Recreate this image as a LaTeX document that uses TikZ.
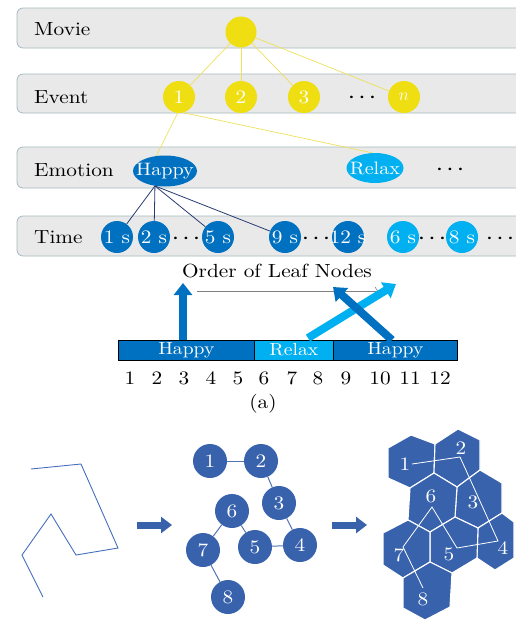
\documentclass[tikz,border=0pt]{standalone}
\usepackage{fontspec}
\setmainfont{lmroman10-regular.otf}[FakeStretch=1.12]
\usetikzlibrary{arrows.meta,shapes.geometric}
\definecolor{bandfill}{RGB}{233,233,233}
\definecolor{bandline}{RGB}{165,185,190}
\definecolor{evyellow}{RGB}{238,222,18}
\definecolor{evline}{RGB}{238,224,90}
\definecolor{happyblue}{RGB}{0,112,192}
\definecolor{relaxblue}{RGB}{0,176,240}
\definecolor{navy}{RGB}{40,60,115}
\definecolor{cellblue}{RGB}{56,98,172}
\definecolor{celledge}{RGB}{80,115,180}
\definecolor{pathblue}{RGB}{70,110,190}
% zero-width box: text may overhang its node
\newcommand\zw[1]{\makebox[0pt]{#1}}
% three heavy centred dots
\newcommand\hdots{{\fontsize{9}{9}\selectfont\textbullet\hspace{2.6pt}\textbullet\hspace{2.6pt}\textbullet}}
\begin{document}
\begin{tikzpicture}[x=1pt,y=-1pt,font=\fontsize{19}{23}\selectfont,
  band/.style={draw=bandline,fill=bandfill,rounded corners=6pt,line width=0.8pt},
  rowlabel/.style={anchor=west,inner sep=0pt},
  ynode/.style={circle,fill=evyellow,minimum size=32pt,inner sep=0pt,text=white},
  ylink/.style={evline,line width=0.7pt},
  emonode/.style={ellipse,minimum width=64pt,minimum height=31pt,inner sep=0pt,text=white,
    font=\fontsize{18}{21}\selectfont},
  tnode/.style={circle,minimum size=32pt,inner sep=0pt,text=white},
  tlink/.style={navy,line width=0.8pt},
  dotsnode/.style={inner sep=0pt},
  barseg/.style={draw=black,line width=0.6pt,minimum height=20pt,inner sep=0pt,anchor=west,text=white,
    font=\fontsize{17.5}{20}\selectfont},
  bigarrow/.style={line width=8pt,-{Triangle[width=18pt,length=12pt]}},
  blockarrow/.style={cellblue,line width=7pt,-{Triangle[width=16pt,length=11pt]}},
  gnode/.style={circle,fill=cellblue,minimum size=34pt,inner sep=0pt,text=white},
  glink/.style={celledge,line width=1pt},
  cell/.style={fill=cellblue,draw=white,line width=1.1pt,line join=round},
  hexlabel/.style={inner sep=0pt,text=white},
  hexpath/.style={white,line width=0.8pt}
]
\useasboundingbox (0,0) rectangle (515,622);

% ---- level bands ----
\path[band] (17,8) rectangle (530,48);
\path[band] (17,74) rectangle (530,113);
\path[band] (17,147) rectangle (530,188);
\path[band] (17,216) rectangle (530,256);
\node[rowlabel] (lmovie) at (34,29) {Movie};
\node[rowlabel] (levent) at (34,97) {Event};
\node[rowlabel] (lemo) at (34,170) {Emotion};
\node[rowlabel] (ltime) at (34,237) {Time};

% ---- movie and events ----
\node[ynode,minimum size=31pt] (movie) at (241,32) {};
\node[ynode] (e1) at (179,97) {1};
\node[ynode] (e2) at (241,97) {2};
\node[ynode] (e3) at (304,97) {3};
\node[dotsnode] (edots) at (362,98) {\hdots};
\node[ynode] (en) at (404,97) {\ensuremath{n}};
\foreach \e in {e1,e2,e3,en} \draw[ylink] (movie) -- (\e);

% ---- emotions ----
\node[emonode,fill=happyblue] (happy) at (165,171) {\zw{Happy}};
\node[emonode,fill=relaxblue,minimum width=57pt,minimum height=30pt] (relax) at (375,168) {\zw{Relax}};
\node[dotsnode] (mdots) at (450,170) {\hdots};
\draw[ylink] (e1.265) -- (happy.120);
\draw[ylink] (e1.-75) -- (relax.100);

% ---- time leaves ----
\node[tnode,fill=happyblue] (t1) at (117,237) {\zw{1 s}};
\node[tnode,fill=happyblue] (t2) at (154,237) {\zw{2 s}};
\node[dotsnode] (tdots1) at (186,239) {\hdots};
\node[tnode,fill=happyblue] (t5) at (218,237) {\zw{5 s}};
\node[tnode,fill=happyblue] (t9) at (285,237) {\zw{9 s}};
\node[dotsnode] (tdots2) at (316,239) {\hdots};
\node[tnode,fill=happyblue] (t12) at (348,237) {\zw{12 s}};
\node[tnode,fill=relaxblue] (t6) at (403,237) {\zw{6 s}};
\node[dotsnode] (tdots3) at (432,239) {\hdots};
\node[tnode,fill=relaxblue] (t8) at (462,237) {\zw{8 s}};
\node[dotsnode] (tdots4) at (500,239) {\hdots};
\foreach \t in {t1,t2,t5,t9} \draw[tlink] (happy.236) -- (\t);

% ---- order of leaf nodes ----
\node[inner sep=0pt] (order) at (277,271) {Order of Leaf Nodes};
\coordinate (oa) at (197,291);
\coordinate (ob) at (379,291);
\draw[gray,line width=0.6pt,-{To[length=4pt,width=8pt]}] (oa) -- (ob);

\node[barseg,fill=happyblue,minimum width=136pt] (bar1) at (118,350) {Happy};
\node[barseg,fill=relaxblue,minimum width=79pt] (bar2) at (254,350) {Relax};
\node[barseg,fill=happyblue,minimum width=124pt] (bar3) at (333,350) {Happy};

\coordinate (upS) at (183,340);
\coordinate (upE) at (183,283);
\coordinate (lbS) at (308,338);
\coordinate (lbE) at (396,284);
\coordinate (dbS) at (392,340);
\coordinate (dbE) at (333,287);
\draw[bigarrow,happyblue] (upS) -- (upE);
\draw[bigarrow,relaxblue] (lbS) -- (lbE);
\draw[bigarrow,happyblue] (dbS) -- (dbE);

\foreach \i/\x in {1/130,2/157,3/184,4/211,5/238,6/264,7/292,8/318,9/346,10/380,11/410,12/440}
  \node[inner sep=0pt] (num\i) at (\x,378) {\i};
\node[inner sep=0pt] (caption) at (263,404) {(a)};

% ---- trajectory ----
\draw[pathblue,line width=0.9pt] (31,469) -- (81,464) -- (118,548) -- (76,555)
  -- (51,514) -- (22,555) -- (43,597);

\coordinate (a1s) at (137,525);
\coordinate (a1e) at (172,525);
\draw[blockarrow] (a1s) -- (a1e);

% ---- graph ----
\node[gnode] (g1) at (210,461) {1};
\node[gnode] (g2) at (261,461) {2};
\node[gnode] (g3) at (279,503) {3};
\node[gnode] (g4) at (300,545) {4};
\node[gnode] (g5) at (255,547) {5};
\node[gnode] (g6) at (232,511) {6};
\node[gnode] (g7) at (203,550) {7};
\node[gnode] (g8) at (228,597) {8};
\draw[glink] (g1) -- (g2);
\draw[glink] (g2) -- (g3);
\draw[glink] (g3) -- (g4);
\draw[glink] (g4) -- (g5);
\draw[glink] (g5) -- (g6);
\draw[glink] (g6) -- (g7);
\draw[glink] (g7) -- (g8);

\coordinate (a2s) at (332,525);
\coordinate (a2e) at (367,525);
\draw[blockarrow] (a2s) -- (a2e);

% ---- hexagonal cells (a shared-vertex tiling) ----
\path[cell] (388,448) -- (411,435) -- (435,444) -- (434,473) -- (410,488) -- (388,478) -- cycle;
\path[cell] (435,444) -- (458,429) -- (480,440) -- (480,470) -- (457,487) -- (434,473) -- cycle;
\path[cell] (457,487) -- (480,470) -- (502,483) -- (502,513) -- (478,528) -- (455,517) -- cycle;
\path[cell] (434,473) -- (457,487) -- (455,517) -- (430,532) -- (408,520) -- (410,488) -- cycle;
\path[cell] (502,513) -- (514,522) -- (514,558) -- (495,570) -- (477,558) -- (478,528) -- cycle;
\path[cell] (455,517) -- (478,528) -- (477,558) -- (452,573) -- (430,562) -- (430,532) -- cycle;
\path[cell] (408,520) -- (430,532) -- (430,562) -- (403,578) -- (383,565) -- (383,533) -- cycle;
\path[cell] (403,578) -- (430,562) -- (452,573) -- (450,607) -- (425,620) -- (403,608) -- cycle;

\coordinate (v1) at (412,464);
\coordinate (v2) at (460,457);
\coordinate (v4) at (498,541);
\coordinate (v5) at (457,548);
\coordinate (v6) at (432,507);
\coordinate (v7) at (403,547);
\coordinate (v8) at (423,588);
\draw[hexpath] (v1) -- (v2) -- (v4) -- (v5) -- (v6) -- (v7) -- (v8);

\node[hexlabel] (c1) at (405,464) {1};
\node[hexlabel] (c2) at (461,448) {2};
\node[hexlabel] (c3) at (473,502) {3};
\node[hexlabel] (c4) at (503,548) {4};
\node[hexlabel] (c5) at (449,554) {5};
\node[hexlabel] (c6) at (431,496) {6};
\node[hexlabel] (c7) at (399,555) {7};
\node[hexlabel] (c8) at (423,599) {8};
\end{tikzpicture}
\end{document}
